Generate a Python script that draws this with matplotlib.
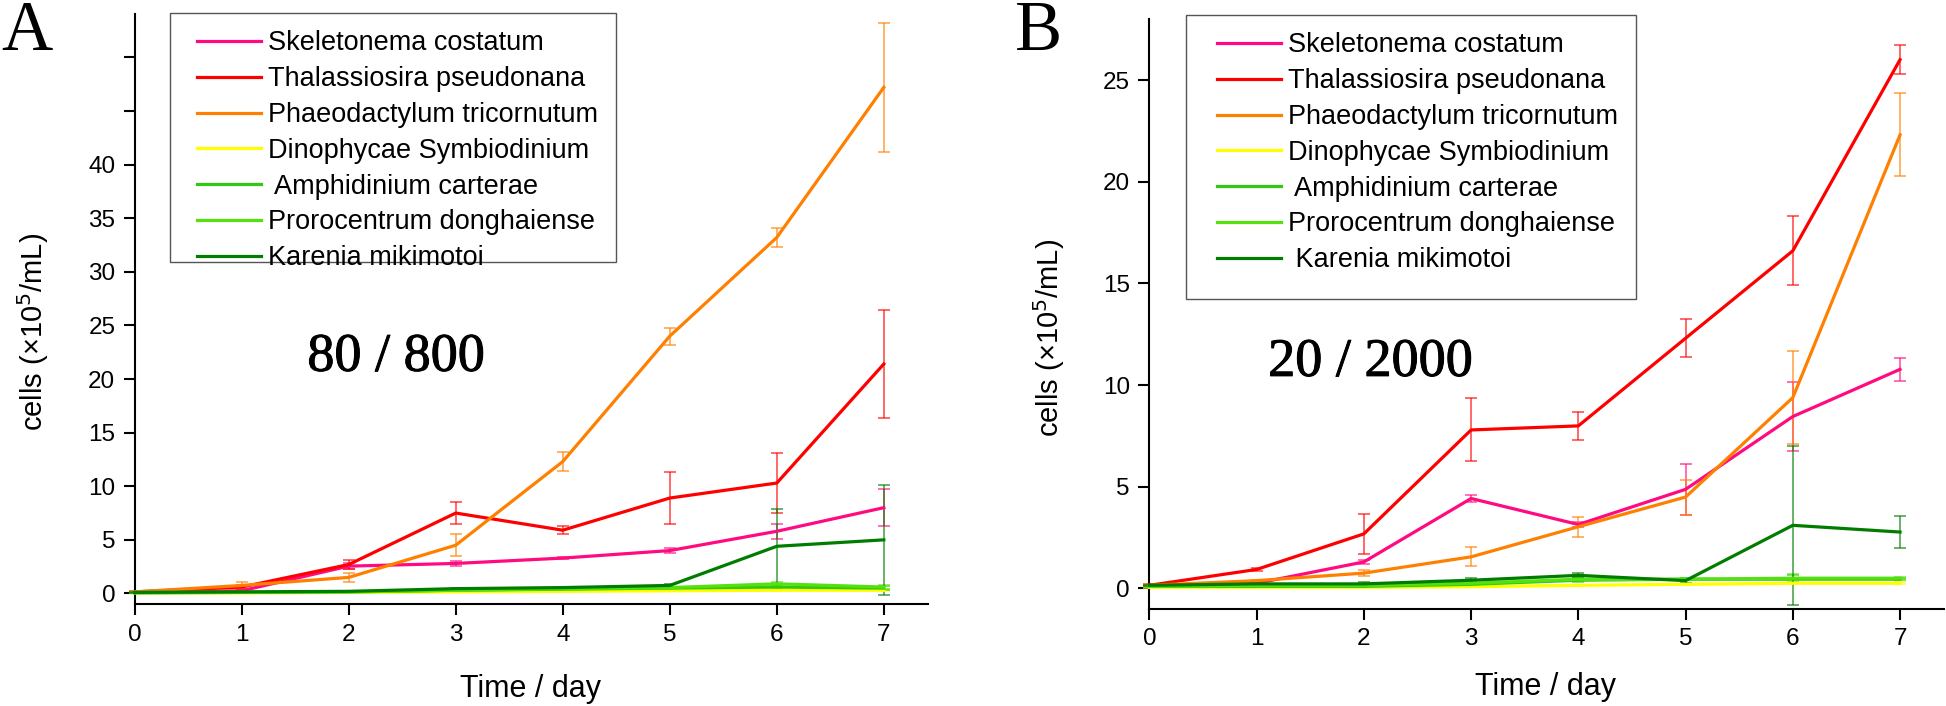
import matplotlib
matplotlib.use('Agg')
import matplotlib.pyplot as plt
import matplotlib.patheffects as pe
from matplotlib.patches import Rectangle

plt.rcParams['font.family'] = ['Liberation Sans', 'DejaVu Sans']

# --- dados ---
dias = [0, 1, 2, 3, 4, 5, 6, 7]

especies_a = ['Skeletonema costatum', 'Thalassiosira pseudonana', 'Phaeodactylum tricornutum',
              'Dinophycae Symbiodinium', ' Amphidinium carterae', 'Prorocentrum donghaiense',
              'Karenia mikimotoi']
especies_b = ['Skeletonema costatum', 'Thalassiosira pseudonana', 'Phaeodactylum tricornutum',
              'Dinophycae Symbiodinium', ' Amphidinium carterae', 'Prorocentrum donghaiense',
              ' Karenia mikimotoi']
cores = ['#ff0a80', '#ff0000', '#ff8000', '#ffff00', '#30c810', '#55e010', '#007d00']

# painel A (80 / 800)
a_skel = [0.1, 0.25, 2.55, 2.8, 3.3, 4.0, 5.8, 8.0]
a_skel_err = [0.05, 0.1, 0.3, 0.2, 0.1, 0.2, 0.7, 1.7]
a_thal = [0.15, 0.6, 2.7, 7.5, 5.9, 8.9, 10.3, 21.4]
a_thal_err = [0.05, 0.2, 0.4, 1.0, 0.4, 2.4, 2.8, 5.0]
a_phae = [0.15, 0.75, 1.5, 4.5, 12.3, 24.0, 33.2, 47.2]
a_phae_err = [0.05, 0.3, 0.4, 1.0, 0.9, 0.8, 0.9, 6.0]
a_dino = [0.05, 0.05, 0.1, 0.15, 0.2, 0.25, 0.3, 0.3]
a_dino_err = [0.02, 0.02, 0.05, 0.05, 0.05, 0.05, 0.1, 0.1]
a_amph = [0.05, 0.1, 0.15, 0.3, 0.4, 0.5, 0.6, 0.5]
a_amph_err = [0.02, 0.05, 0.05, 0.1, 0.1, 0.1, 0.2, 0.2]
a_pror = [0.1, 0.1, 0.15, 0.3, 0.45, 0.55, 0.9, 0.6]
a_pror_err = [0.02, 0.05, 0.05, 0.1, 0.1, 0.1, 0.2, 0.2]
a_kare = [0.1, 0.15, 0.2, 0.45, 0.55, 0.75, 4.4, 5.0]
a_kare_err = [0.02, 0.05, 0.05, 0.1, 0.1, 0.1, 3.5, 5.1]

# painel B (20 / 2000)
b_skel = [0.1, 0.25, 1.3, 4.42, 3.14, 4.87, 8.45, 10.77]
b_skel_err = [0.05, 0.05, 0.1, 0.18, 0.1, 1.27, 1.7, 0.55]
b_thal = [0.15, 0.93, 2.68, 7.79, 7.99, 12.3, 16.6, 26.0]
b_thal_err = [0.05, 0.08, 1.0, 1.55, 0.7, 0.93, 1.7, 0.7]
b_phae = [0.15, 0.38, 0.75, 1.55, 3.03, 4.49, 9.38, 22.3]
b_phae_err = [0.05, 0.05, 0.15, 0.46, 0.5, 0.86, 2.3, 2.04]
b_dino = [0.05, 0.05, 0.05, 0.08, 0.15, 0.2, 0.25, 0.25]
b_dino_err = [0.02, 0.02, 0.02, 0.03, 0.03, 0.03, 0.05, 0.05]
b_amph = [0.1, 0.1, 0.1, 0.2, 0.4, 0.45, 0.45, 0.45]
b_amph_err = [0.02, 0.05, 0.05, 0.15, 0.1, 0.05, 0.2, 0.05]
b_pror = [0.1, 0.15, 0.15, 0.25, 0.45, 0.45, 0.5, 0.5]
b_pror_err = [0.02, 0.05, 0.05, 0.15, 0.1, 0.05, 0.2, 0.05]
b_kare = [0.15, 0.22, 0.22, 0.4, 0.64, 0.38, 3.1, 2.77]
b_kare_err = [0.02, 0.1, 0.08, 0.12, 0.1, 0.1, 3.9, 0.79]

series_a = [(a_skel, a_skel_err), (a_thal, a_thal_err), (a_phae, a_phae_err), (a_dino, a_dino_err),
            (a_amph, a_amph_err), (a_pror, a_pror_err), (a_kare, a_kare_err)]
series_b = [(b_skel, b_skel_err), (b_thal, b_thal_err), (b_phae, b_phae_err), (b_dino, b_dino_err),
            (b_amph, b_amph_err), (b_pror, b_pror_err), (b_kare, b_kare_err)]

W, H = 1946, 706
fig = plt.figure(figsize=(W / 100, H / 100), dpi=100)


def painel(ax, series, nomes, ylim, yticks, ylabels, titulo, pos_titulo, caixa, ancora):
    for (m, e), cor, nome in zip(series, cores, nomes):
        ax.errorbar(dias, m, yerr=e, fmt='none', ecolor=cor, elinewidth=1.1,
                    capsize=4.5, capthick=1.1, alpha=0.75, zorder=2, clip_on=False)
        ax.plot(dias, m, color=cor, lw=2.3, label=nome, zorder=3, clip_on=False)

    ax.set_xlim(0, 7.41)
    ax.set_ylim(*ylim)
    ax.set_xticks(dias)
    ax.set_yticks(yticks)
    ax.set_yticklabels(ylabels)
    for s in ['top', 'right']:
        ax.spines[s].set_visible(False)
    for s in ['left', 'bottom']:
        ax.spines[s].set_linewidth(1.5)
    ax.tick_params(direction='out', length=8, width=1.5, labelsize=17.5, pad=6)

    # texto da condicao (levemente engrossado)
    ax.text(pos_titulo[0], pos_titulo[1], titulo, ha='center', va='center',
            family='Liberation Serif', fontsize=39,
            path_effects=[pe.withStroke(linewidth=0.7, foreground='black')])

    # caixa da legenda desenhada a parte
    ax.add_patch(Rectangle((caixa[0], caixa[1]), caixa[2], caixa[3], transform=ax.transAxes,
                           fill=False, edgecolor='#555555', lw=1.0, clip_on=False, zorder=5))

    leg = ax.legend(loc='upper left', bbox_to_anchor=ancora, frameon=False, fontsize=19.5,
                    handlelength=2.36, handletextpad=0.28, labelspacing=0.36,
                    borderpad=0, borderaxespad=0)
    for ln in leg.get_lines():
        ln.set_linewidth(2.3)


ax_a = fig.add_axes([134.7 / W, 1 - 604.2 / H, 793 / W, 589.8 / H])
ax_b = fig.add_axes([1149.4 / W, 1 - 608.7 / H, 794.6 / W, 589.7 / H])

yt_a = [0, 5, 10, 15, 20, 25, 30, 35, 40, 45, 50]
yl_a = ['0', '5', '10', '15', '20', '25', '30', '35', '40', '', '']
painel(ax_a, series_a, especies_a, (-1, 54), yt_a, yl_a, '80 / 800', (2.44, 22.0),
       ((169.6 - 134.7) / 793, (604.2 - 262) / 589.8, 446.4 / 793, 248.5 / 589.8),
       ((197 - 134.7) / 793, (604.2 - 30.5) / 589.8))

yt_b = [0, 5, 10, 15, 20, 25]
painel(ax_b, series_b, especies_b, (-1, 28), yt_b, [str(v) for v in yt_b], '20 / 2000', (2.06, 11.1),
       ((1186 - 1149.4) / 794.6, (608.7 - 298.5) / 589.7, 449.6 / 794.6, 283.5 / 589.7),
       ((1216.7 - 1149.4) / 794.6, (608.7 - 32.5) / 589.7))

# rotulos dos eixos
fig.text(33 / W, 1 - 332 / H, 'cells (×10$^5$/mL)', rotation=90, ha='center', va='center', fontsize=21)
fig.text(1049 / W, 1 - 338 / H, 'cells (×10$^5$/mL)', rotation=90, ha='center', va='center', fontsize=21)
fig.text(531 / W, 1 - 689 / H, 'Time / day', ha='center', va='center', fontsize=22)
fig.text(1545.6 / W, 1 - 686.6 / H, 'Time / day', ha='center', va='center', fontsize=22)

# letras dos paineis
fig.text(1 / W, 1 - 50 / H, 'A', ha='left', va='baseline', family='Liberation Serif', fontsize=51)
fig.text(1015 / W, 1 - 50 / H, 'B', ha='left', va='baseline', family='Liberation Serif', fontsize=51)

fig.savefig('out.png', dpi=100)
